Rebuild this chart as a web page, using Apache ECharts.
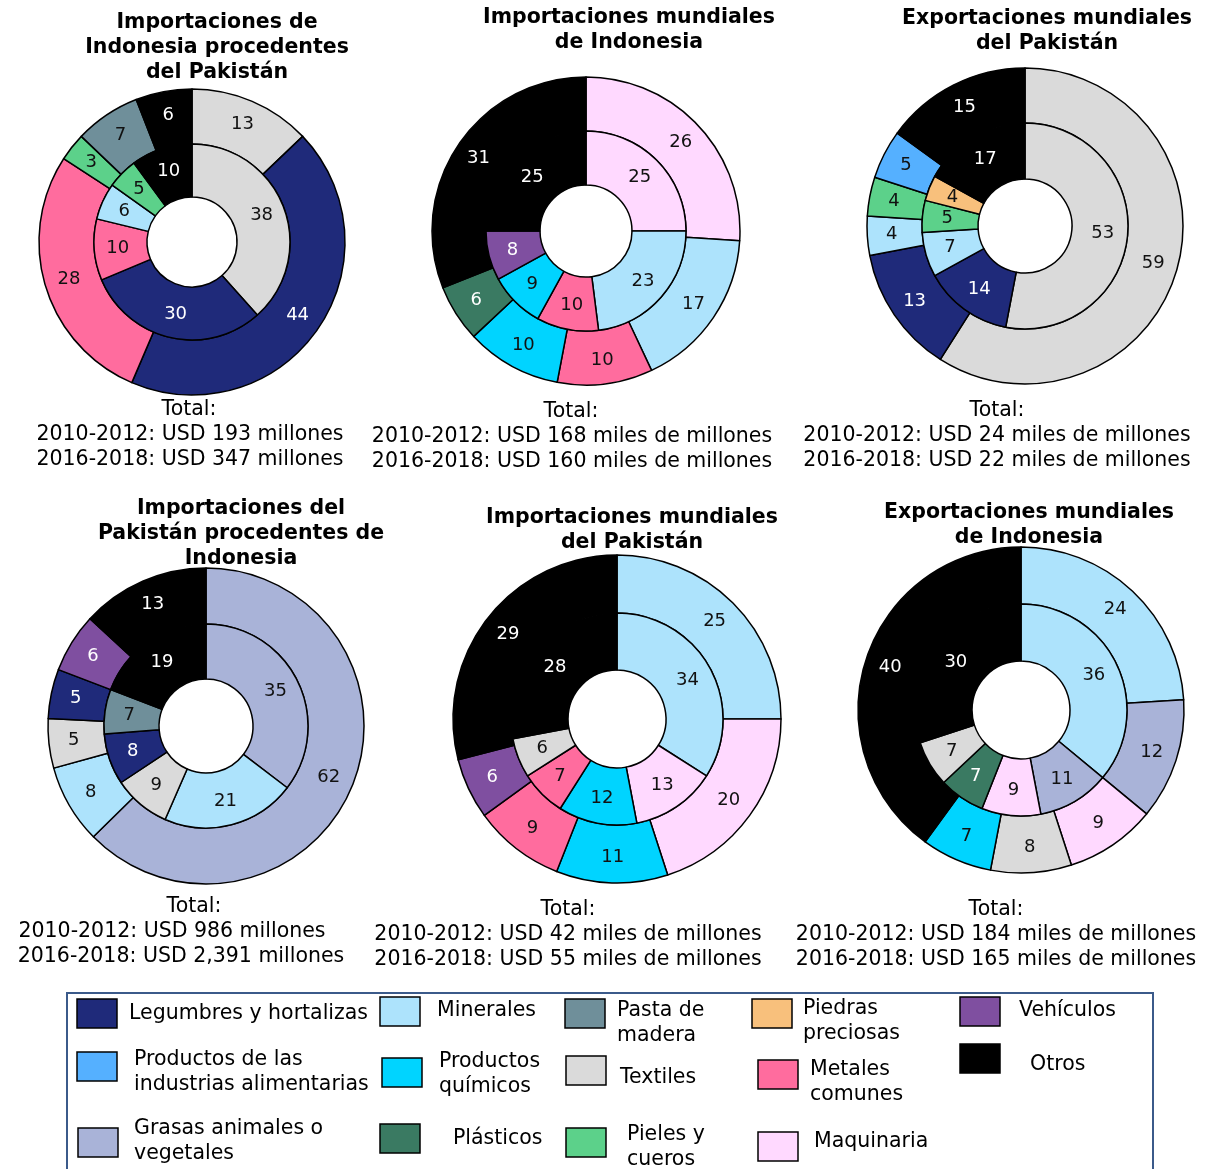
<!DOCTYPE html>
<html><head><meta charset="utf-8">
<script src="https://cdn.jsdelivr.net/npm/echarts@6/dist/echarts.min.js"></script>
<style>html,body{margin:0;padding:0;background:#fff}#c{width:1205px;height:1169px}</style>
</head><body><div id="c"></div>
<script>
// ---- Categories (product groups) ----
const categories = ['Legumbres y hortalizas','Productos de las industrias alimentarias','Grasas animales o vegetales','Minerales','Productos químicos','Plásticos','Pasta de madera','Textiles','Pieles y cueros','Piedras preciosas','Metales comunes','Maquinaria','Vehículos','Otros'];
const legendLabels = ['Legumbres y hortalizas','Productos de las\nindustrias alimentarias','Grasas animales o\nvegetales','Minerales','Productos\nquímicos','Plásticos','Pasta de\nmadera','Textiles','Pieles y\ncueros','Piedras\npreciosas','Metales\ncomunes','Maquinaria','Vehículos','Otros'];

// ---- Chart 1: Importaciones de Indonesia procedentes del Pakistán ----
const c1Title = 'Importaciones de\nIndonesia procedentes\ndel Pakistán';
const c1InnerCats = ['Textiles','Legumbres y hortalizas','Metales comunes','Minerales','Pieles y cueros','Otros'];
const c1Inner = [38,30,10,6,5,10];
const c1OuterCats = ['Textiles','Legumbres y hortalizas','Metales comunes','Pieles y cueros','Pasta de madera','Otros'];
const c1Outer = [13,44,28,3,7,6];
const c1Totals = ['Total:','2010-2012: USD 193 millones','2016-2018: USD 347 millones'];

// ---- Chart 2: Importaciones mundiales de Indonesia ----
const c2Title = 'Importaciones mundiales\nde Indonesia';
const c2InnerCats = ['Maquinaria','Minerales','Metales comunes','Productos químicos','Vehículos','Otros'];
const c2Inner = [25,23,10,9,8,25];
const c2OuterCats = ['Maquinaria','Minerales','Metales comunes','Productos químicos','Plásticos','Otros'];
const c2Outer = [26,17,10,10,6,31];
const c2Totals = ['Total:','2010-2012: USD 168 miles de millones','2016-2018: USD 160 miles de millones'];

// ---- Chart 3: Exportaciones mundiales del Pakistán ----
const c3Title = 'Exportaciones mundiales\ndel Pakistán';
const c3InnerCats = ['Textiles','Legumbres y hortalizas','Minerales','Pieles y cueros','Piedras preciosas','Otros'];
const c3Inner = [53,14,7,5,4,17];
const c3OuterCats = ['Textiles','Legumbres y hortalizas','Minerales','Pieles y cueros','Productos de las industrias alimentarias','Otros'];
const c3Outer = [59,13,4,4,5,15];
const c3Totals = ['Total:','2010-2012: USD 24 miles de millones','2016-2018: USD 22 miles de millones'];

// ---- Chart 4: Importaciones del Pakistán procedentes de Indonesia ----
const c4Title = 'Importaciones del\nPakistán procedentes de\nIndonesia';
const c4InnerCats = ['Grasas animales o vegetales','Minerales','Textiles','Legumbres y hortalizas','Pasta de madera','Otros'];
const c4Inner = [35,21,9,8,7,19];
const c4OuterCats = ['Grasas animales o vegetales','Minerales','Textiles','Legumbres y hortalizas','Vehículos','Otros'];
const c4Outer = [62,8,5,5,6,13];
const c4Totals = ['Total:','2010-2012: USD 986 millones','2016-2018: USD 2,391 millones'];

// ---- Chart 5: Importaciones mundiales del Pakistán ----
const c5Title = 'Importaciones mundiales\ndel Pakistán';
const c5InnerCats = ['Minerales','Maquinaria','Productos químicos','Metales comunes','Textiles','Otros'];
const c5Inner = [34,13,12,7,6,28];
const c5OuterCats = ['Minerales','Maquinaria','Productos químicos','Metales comunes','Vehículos','Otros'];
const c5Outer = [25,20,11,9,6,29];
const c5Totals = ['Total:','2010-2012: USD 42 miles de millones','2016-2018: USD 55 miles de millones'];

// ---- Chart 6: Exportaciones mundiales de Indonesia ----
const c6Title = 'Exportaciones mundiales\nde Indonesia';
const c6InnerCats = ['Minerales','Grasas animales o vegetales','Maquinaria','Plásticos','Textiles','Otros'];
const c6Inner = [36,11,9,7,7,30];
const c6OuterCats = ['Minerales','Grasas animales o vegetales','Maquinaria','Textiles','Productos químicos','Otros'];
const c6Outer = [24,12,9,8,7,40];
const c6Totals = ['Total:','2010-2012: USD 184 miles de millones','2016-2018: USD 165 miles de millones'];

// ---- Styling ----
const colorOf = {
  'Legumbres y hortalizas':'#1f2a7a','Productos de las industrias alimentarias':'#55b0ff','Grasas animales o vegetales':'#a9b3d8',
  'Minerales':'#ade3fc','Productos químicos':'#00d4ff','Plásticos':'#3a7a62','Pasta de madera':'#6f8f9a','Textiles':'#dadada',
  'Pieles y cueros':'#5cd18a','Piedras preciosas':'#f8c07c','Metales comunes':'#ff6c9e','Maquinaria':'#ffd9ff','Vehículos':'#7f4fa0','Otros':'#000000'
};
const whiteText = new Set(['Legumbres y hortalizas','Plásticos','Vehículos','Otros']);
const FONT = 'DejaVu Sans';

const charts = [
  {title:c1Title, ic:c1InnerCats, iv:c1Inner, oc:c1OuterCats, ov:c1Outer, tot:c1Totals,
   cx:192, cy:242, r:[45,98,153], tx:217, ty:10, totX:[189,190,190], totY:410},
  {title:c2Title, ic:c2InnerCats, iv:c2Inner, oc:c2OuterCats, ov:c2Outer, tot:c2Totals,
   cx:586, cy:231, r:[46,100,154], tx:629, ty:5, totX:[571,572,572], totY:412},
  {title:c3Title, ic:c3InnerCats, iv:c3Inner, oc:c3OuterCats, ov:c3Outer, tot:c3Totals,
   cx:1025, cy:226, r:[47,103,158], tx:1047, ty:6, totX:[997,997,997], totY:411},
  {title:c4Title, ic:c4InnerCats, iv:c4Inner, oc:c4OuterCats, ov:c4Outer, tot:c4Totals,
   cx:206, cy:726, r:[47,102,158], tx:241, ty:496, totX:[194,172,181], totY:907},
  {title:c5Title, ic:c5InnerCats, iv:c5Inner, oc:c5OuterCats, ov:c5Outer, tot:c5Totals,
   cx:617, cy:719, r:[49,106,164], tx:632, ty:505, totX:[568,568,568], totY:910},
  {title:c6Title, ic:c6InnerCats, iv:c6Inner, oc:c6OuterCats, ov:c6Outer, tot:c6Totals,
   cx:1021, cy:710, r:[49,106,163], tx:1029, ty:500, totX:[996,996,996], totY:910}
];

function ring(cats, vals, c, r0, r1, name){
  return {
    type:'pie', name:name, center:[c.cx,c.cy], radius:[r0,r1], startAngle:90, clockwise:true,
    silent:true, animation:false, avoidLabelOverlap:false,
    itemStyle:{borderColor:'#000', borderWidth:1.5},
    label:{show:true, position:'inside', formatter:'{c}', fontFamily:FONT, fontSize:18},
    labelLine:{show:false},
    data: cats.map((k,i)=>({name:k, value:vals[i], itemStyle:{color:colorOf[k]},
      label:{color: whiteText.has(k)?'#fff':'#111'}}))
  };
}

const series=[], titles=[], graphics=[];
charts.forEach((c,idx)=>{
  series.push(ring(c.oc,c.ov,c,c.r[1],c.r[2],'2016-2018'));
  series.push(ring(c.ic,c.iv,c,c.r[0],c.r[1],'2010-2012'));
  titles.push({text:c.title, left:c.tx, top:c.ty, textAlign:'center', padding:0,
    textStyle:{fontFamily:FONT, fontWeight:'bold', fontSize:20.5, lineHeight:25, color:'#000'}});
  c.tot.forEach((t,j)=>{
    graphics.push({type:'text', x:c.totX[j], y:c.totY+j*25, style:{text:t, fontFamily:FONT, fontSize:20.5,
      fill:'#000', textAlign:'center', textVerticalAlign:'middle'}});
  });
});

// ---- Legend (drawn as graphic) ----
const legendPos = [
  // [swatchX, swatchY, textX, textY(first line center)]
  [77,999,129,1014],   // Legumbres
  [77,1052,134,1060],  // Alimentarias
  [78,1128,134,1129],  // Grasas
  [380,997,437,1011],  // Minerales
  [382,1058,439,1062], // Químicos
  [380,1124,453,1139], // Plásticos
  [565,999,617,1011],  // Pasta
  [566,1056,620,1078], // Textiles
  [566,1128,627,1135], // Pieles
  [752,999,803,1009],  // Piedras
  [758,1060,810,1070], // Metales
  [758,1132,814,1142], // Maquinaria
  [960,997,1019,1011], // Vehículos
  [960,1044,1030,1065] // Otros
];
graphics.push({type:'rect', shape:{x:67,y:993,width:1086,height:190}, style:{fill:'none', stroke:'#3b5a8a', lineWidth:2}});
categories.forEach((k,i)=>{
  const p = legendPos[i];
  graphics.push({type:'rect', shape:{x:p[0],y:p[1],width:40,height:29}, style:{fill:colorOf[k], stroke:'#000', lineWidth:1.5}});
  graphics.push({type:'text', x:p[2], y:p[3]-12.5, style:{text:legendLabels[i], fontFamily:FONT, fontSize:20.5, lineHeight:24.5, fill:'#000', textAlign:'left', textVerticalAlign:'top'}});
});

const chart = echarts.init(document.getElementById('c'), null, {renderer:'canvas'});
chart.setOption({animation:false, backgroundColor:'#fff', title:titles, series:series, graphic:graphics});
</script></body></html>
